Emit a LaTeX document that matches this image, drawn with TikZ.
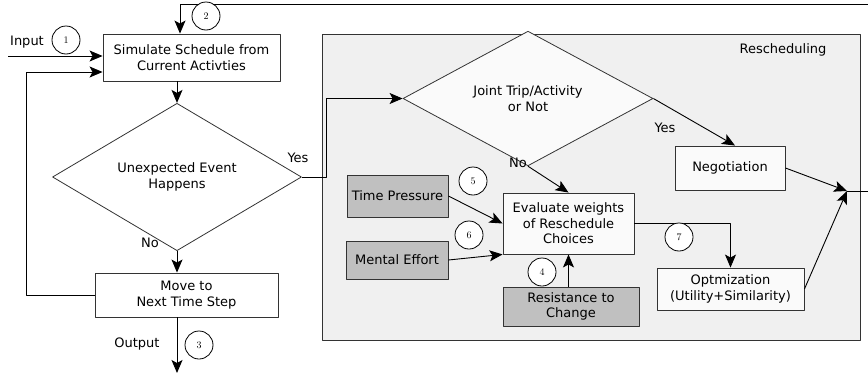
\documentclass[tikz,border=0pt]{standalone}
\usepackage{fontspec}
\setmainfont{DejaVu Sans}
\usetikzlibrary{arrows.meta,shapes.geometric}
\definecolor{linegray}{HTML}{333333}
\definecolor{panelgray}{HTML}{F0F0F0}
\definecolor{factorgray}{HTML}{C0C0C0}
\definecolor{offwhite}{HTML}{FAFAFA}
\tikzset{
  every picture/.style={
    line join=round,
    >={Stealth[length=13pt,width=11pt,inset=3pt]},
  },
  procbox/.style={draw=linegray, line width=0.9pt, fill=white, align=center, inner sep=0pt},
  factorbox/.style={procbox, fill=factorgray},
  decision/.style={diamond, draw=linegray, line width=0.8pt, fill=white, align=center, inner sep=0pt},
  stepnum/.style={circle, draw, line width=0.8pt, fill=white, minimum size=28pt, inner sep=0pt, font=\fontsize{10}{11}\selectfont},
  flow/.style={->, line width=0.9pt},
  lbl/.style={inner sep=0pt},
}

\begin{document}
\begin{tikzpicture}[x=1pt,y=-1pt,font=\fontsize{13}{15.5}\selectfont]
    \useasboundingbox (0,0) rectangle (868,375);
    % Rescheduling panel
    \node[draw=linegray, line width=0.9pt, fill=panelgray, minimum width=538pt, minimum height=306pt, inner sep=0pt] (panel) at (591,187) {};
    \node[lbl] (reschedtitle) at (783,50) {Rescheduling};
    % Main loop
    \node[procbox, minimum width=177pt, minimum height=47pt] (sim) at (191.5,57.5) {Simulate Schedule from\\Current Activties};
    \node[decision, minimum width=249pt, minimum height=98pt] (event) at (177,177) {Unexpected Event\\Happens};
    \node[procbox, minimum width=183pt, minimum height=44pt] (move) at (186.5,295) {Move to\\Next Time Step};
    % Rescheduling steps
    \node[decision, fill=offwhite, minimum width=250pt, minimum height=81pt] (joint) at (528,98.5) {Joint Trip/Activity\\or Not};
    \node[procbox, fill=offwhite, minimum width=110pt, minimum height=44pt] (nego) at (730,168) {Negotiation};
    \node[procbox, fill=offwhite, minimum width=131pt, minimum height=61pt] (eval) at (568.5,223.5) {Evaluate weights\\of Reschedule\\Choices};
    \node[factorbox, minimum width=101pt, minimum height=42pt] (press) at (397.5,196) {Time Pressure};
    \node[factorbox, minimum width=102pt, minimum height=38pt] (effort) at (397,260) {Mental Effort};
    \node[factorbox, minimum width=136pt, minimum height=39pt] (resist) at (571,306.5) {Resistance to\\Change};
    \node[procbox, fill=offwhite, minimum width=147pt, minimum height=42pt] (optim) at (730.5,289) {Optmization\\(Utility+Similarity)};
    % Free ends
    \coordinate (inputstart) at (8,56);
    \coordinate (feedback) at (868,4);
    \coordinate (merge) at (847,191);
    \coordinate (result) at (868,191);
    \coordinate (outputend) at (177,373);
    % Connectors
    \draw[flow] (inputstart) -- (sim.west |- inputstart);
    \draw[flow] (feedback) -| ([xshift=-11.5pt]sim.north);
    \draw[flow] (event.north |- sim.south) -- (event.north);
    \draw[flow] (event.south) -- (event.south |- move.north);
    \draw[flow] (move.west) -- ++(-68,0) |- ([yshift=-14.5pt]sim.west);
    \draw[flow] (move.south -| outputend) -- (outputend);
    \draw[flow] (event.east) -- ++(25,0) |- (joint.west);
    \draw[flow] (joint.south) -- (eval.north);
    \draw[flow] (joint.east) -- ([xshift=5pt]nego.north);
    \draw[flow] (nego.east) -- (merge);
    \draw[flow] (optim.east) -- (merge);
    \draw[line width=0.9pt] (merge) -- (result);
    \draw[flow] (press.east) -- (eval.west);
    \draw[flow] (effort.east) -- (eval.south west);
    \draw[flow] (resist.north -| eval.south) -- (eval.south);
    \draw[flow] (eval.east) -| (optim.north);
    % Branch labels
    \node[lbl] (inputlbl) at (27,42) {Input};
    \node[lbl] (outputlbl) at (137,344) {Output};
    \node[lbl] (eventyes) at (298,158) {Yes};
    \node[lbl] (eventno) at (150,243) {No};
    \node[lbl] (jointno) at (518,163) {No};
    \node[lbl] (jointyes) at (665,128) {Yes};
    % Step numbers
    \node[stepnum] (n1) at (66,40) {$1$};
    \node[stepnum] (n2) at (206,16) {$2$};
    \node[stepnum] (n3) at (199,345) {$3$};
    \node[stepnum] (n4) at (542,272) {$4$};
    \node[stepnum] (n5) at (473,181) {$5$};
    \node[stepnum] (n6) at (469,235) {$6$};
    \node[stepnum] (n7) at (679,237) {$7$};
\end{tikzpicture}
\end{document}
